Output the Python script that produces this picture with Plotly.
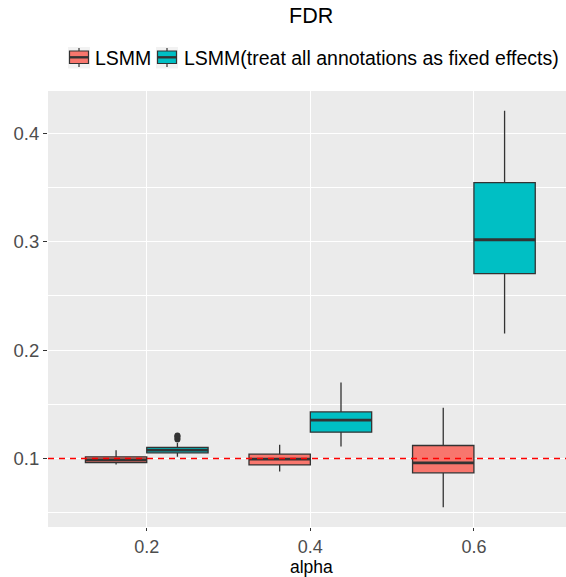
import plotly.graph_objects as go

# alpha levels on the x axis (discrete positions 0, 1, 2)
alpha_labels = ["0.2", "0.4", "0.6"]
alpha_pos = [0, 1, 2]

# FDR box statistics per alpha level
lsmm_q1 = [0.0963, 0.0941, 0.0868]
lsmm_median = [0.0987, 0.0994, 0.0960]
lsmm_q3 = [0.1015, 0.1040, 0.1120]
lsmm_low = [0.0945, 0.0880, 0.0550]
lsmm_high = [0.1077, 0.1126, 0.1468]

fixed_q1 = [0.1052, 0.1243, 0.2705]
fixed_median = [0.1077, 0.1354, 0.3018]
fixed_q3 = [0.1102, 0.1430, 0.3545]
fixed_low = [0.1015, 0.1111, 0.2154]
fixed_high = [0.1144, 0.1702, 0.4207]

# outlying FDR values for the fixed-effects model at alpha = 0.2
fixed_outlier_pos = [0, 0, 0, 0]
fixed_outliers = [0.1175, 0.1190, 0.1205, 0.1212]

target_fdr = 0.1

series_names = ["LSMM", "LSMM(treat all annotations as fixed effects)"]

RED = "#F8766D"
TEAL = "#00BFC4"
EDGE = "#333333"
BOXGAP = 0.25
FONT = "Liberation Sans, Arial, sans-serif"

# figure geometry in pixels
W, H = 566, 577
ML, MR, MT, MB = 48, 0, 91, 50
PW, PH = W - ML - MR, H - MT - MB


def px_x(p):
    return (p - ML) / PW


def px_y(p):
    return (H - MB - p) / PH


fig = go.Figure()
for name, col, q1, med, q3, lo, hi in [
    (series_names[0], RED, lsmm_q1, lsmm_median, lsmm_q3, lsmm_low, lsmm_high),
    (series_names[1], TEAL, fixed_q1, fixed_median, fixed_q3, fixed_low, fixed_high),
]:
    fig.add_trace(go.Box(
        name=name, x=alpha_pos, q1=q1, median=med, q3=q3,
        lowerfence=lo, upperfence=hi,
        fillcolor=col, line=dict(color=EDGE, width=1.3), whiskerwidth=0,
        boxpoints=False, hoverinfo="skip", showlegend=False,
    ))

# dodged boxes: each box spans half of the group slot
half_box = (1 - BOXGAP) / 4
for sign, med in [(-1, lsmm_median), (1, fixed_median)]:
    fig.add_trace(go.Scatter(
        x=[p + sign * half_box for p in alpha_pos], y=med, mode="markers",
        marker=dict(size=1, opacity=0),
        error_x=dict(type="constant", value=half_box, thickness=2.8, width=0,
                     color=EDGE),
        showlegend=False, hoverinfo="skip",
    ))

fig.add_trace(go.Scatter(
    x=[p + half_box for p in fixed_outlier_pos], y=fixed_outliers, mode="markers",
    marker=dict(color=EDGE, size=6), showlegend=False, hoverinfo="skip",
))

fig.add_shape(type="line", xref="paper", x0=0, x1=1, y0=target_fdr, y1=target_fdr,
              line=dict(color="red", width=1.3, dash="6px,5px"), layer="above")

# legend drawn as keys + labels in one row above the panel
key_left = [68, 156]
label_left = [92.5, 181.5]
for kx, lx, col, name in zip(key_left, label_left, [RED, TEAL], series_names):
    fig.add_shape(type="rect", xref="paper", yref="paper",
                  x0=px_x(kx), x1=px_x(kx + 22), y0=px_y(68.5), y1=px_y(47),
                  fillcolor="#F2F2F2", line=dict(width=0))
    fig.add_shape(type="line", xref="paper", yref="paper",
                  x0=px_x(kx + 11), x1=px_x(kx + 11), y0=px_y(67), y1=px_y(48),
                  line=dict(color=EDGE, width=1.2))
    fig.add_shape(type="rect", xref="paper", yref="paper",
                  x0=px_x(kx + 1.5), x1=px_x(kx + 20.5), y0=px_y(63.5), y1=px_y(51),
                  fillcolor=col, line=dict(color=EDGE, width=1.2))
    fig.add_shape(type="line", xref="paper", yref="paper",
                  x0=px_x(kx + 1.5), x1=px_x(kx + 20.5), y0=px_y(57.3), y1=px_y(57.3),
                  line=dict(color=EDGE, width=2.4))
    fig.add_annotation(text=name, xref="paper", yref="paper", x=px_x(lx), y=px_y(58),
                       showarrow=False, xanchor="left", yanchor="middle",
                       font=dict(size=19.5, color="black", family=FONT))

fig.add_annotation(text="FDR", xref="paper", yref="paper", x=px_x(311), y=px_y(16),
                   showarrow=False, xanchor="center", yanchor="middle",
                   font=dict(size=21.5, color="black", family=FONT))
fig.add_annotation(text="alpha", xref="paper", yref="paper", x=px_x(311), y=px_y(566.5),
                   showarrow=False, xanchor="center", yanchor="middle",
                   font=dict(size=17.5, color="black", family=FONT))

fig.update_layout(
    width=W, height=H,
    margin=dict(l=ML, r=MR, t=MT, b=MB),
    paper_bgcolor="white", plot_bgcolor="#EBEBEB",
    font=dict(family=FONT, color="black"),
    boxmode="group", boxgap=BOXGAP, boxgroupgap=0,
    showlegend=False,
)
fig.update_xaxes(
    range=[-0.6037, 2.563], tickvals=alpha_pos, ticktext=alpha_labels,
    showgrid=True, gridcolor="white", gridwidth=1.1, zeroline=False,
    ticks="outside", ticklen=3, tickcolor=EDGE, tickwidth=1,
    tickfont=dict(size=18, color="#4D4D4D"),
)
fig.update_yaxes(
    range=[0.0368, 0.439], tick0=0, dtick=0.1, tickformat=".1f",
    showgrid=True, gridcolor="white", gridwidth=1.1, zeroline=False,
    minor=dict(dtick=0.05, showgrid=True, gridcolor="white", gridwidth=0.55),
    ticks="outside", ticklen=4, tickcolor=EDGE, tickwidth=1,
    tickfont=dict(size=18.5, color="#4D4D4D"),
)

fig.write_html("out.html")
